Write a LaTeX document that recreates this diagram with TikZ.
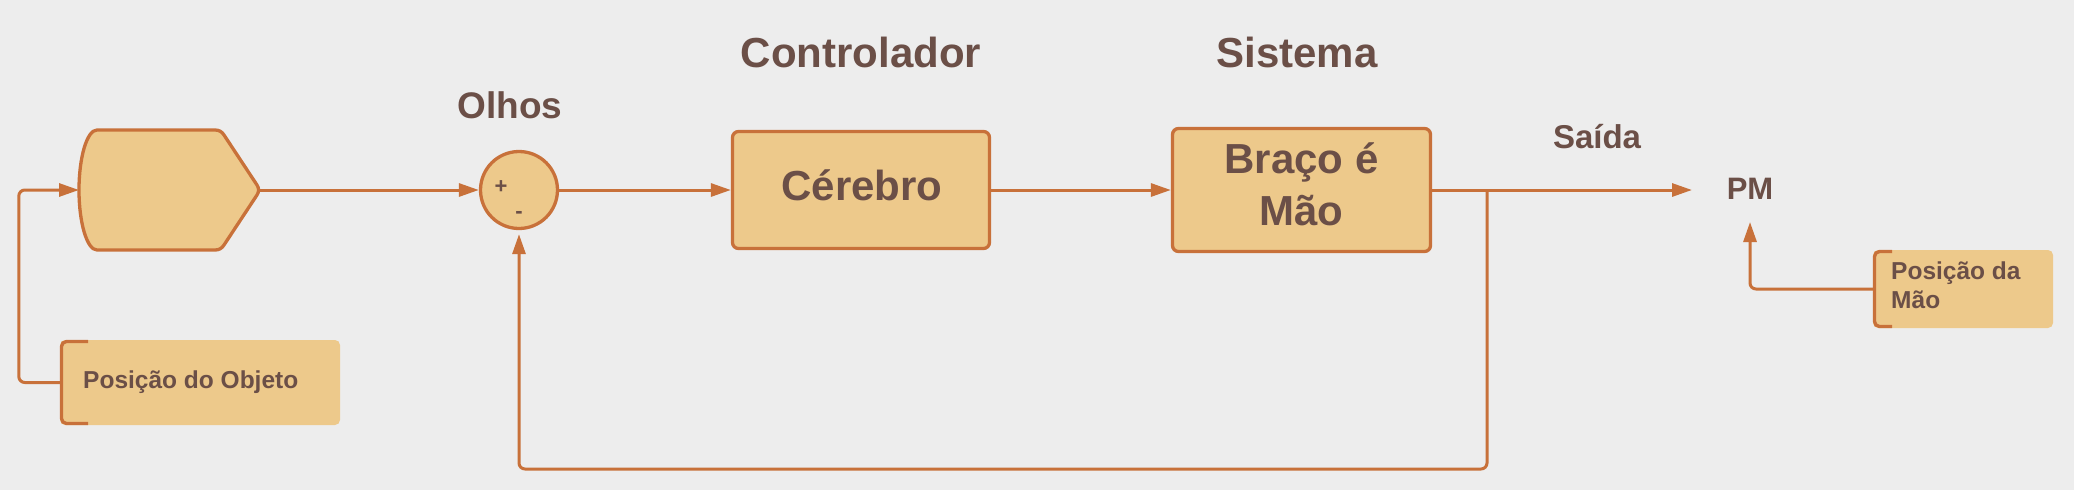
\documentclass[tikz,border=0pt]{standalone}
\usepackage{fontspec}
\setmainfont{Liberation Sans}
\usetikzlibrary{arrows.meta}
\definecolor{bg}{HTML}{EDEDED}
\definecolor{boxfill}{HTML}{EDC98B}
\definecolor{edge}{HTML}{C8713A}
\definecolor{txt}{HTML}{6B4F47}
\newcommand{\fsz}[1]{\fontsize{#1pt}{1.2\dimexpr#1pt\relax}\selectfont}
\begin{document}
\begin{tikzpicture}[x=1pt,y=-1pt,
  blockbox/.style={draw=edge,fill=boxfill,line width=3.3pt,rounded corners=6pt,inner sep=0pt},
  notebox/.style={fill=boxfill,rounded corners=5pt,inner sep=0pt},
  bracket/.style={draw=edge,line width=3.3pt,rounded corners=5pt},
  conn/.style={draw=edge,line width=3pt,rounded corners=6pt},
  arr/.style={conn,-{Triangle[length=20pt,width=13pt]}},
  lbl/.style={text=txt,font=\bfseries,anchor=base,inner sep=0pt},
]
\useasboundingbox[fill=bg] (0,0) rectangle (2074,490);

% input shape
\path[blockbox,sharp corners] (97,250)
  arc[start angle=270,end angle=90,x radius=18pt,y radius=60pt]
  -- (215,130) to[out=0,in=123] (224,135) -- (257,185) to[out=-57,in=57] (257,195)
  -- (224,245) to[out=-123,in=0] (215,250) -- cycle;
\coordinate (inW) at (79,190);
\coordinate (inE) at (260,190);

% blocks
\node[blockbox,circle,minimum size=77pt] (olhos) at (519,190) {};
\node[blockbox,minimum width=257pt,minimum height=117pt] (cerebro) at (861,190) {};
\node[blockbox,minimum width=258pt,minimum height=123pt] (sistema) at (1301.5,190) {};

% note boxes
\node[notebox,minimum width=280pt,minimum height=85pt] (objbox) at (200,382.5) {};
\draw[bracket] (88,341.5) -- (61.5,341.5) -- (61.5,423.5) -- (88,423.5);
\node[notebox,minimum width=180pt,minimum height=78pt] (maobox) at (1963,289) {};
\draw[bracket] (1892,251.5) -- (1874.5,251.5) -- (1874.5,326.5) -- (1892,326.5);

% texts
\node[lbl,font=\bfseries\fsz{42}] (tcontrol) at (861,67) {Controlador};
\node[lbl,font=\bfseries\fsz{42}] (tsistema) at (1297,67) {Sistema};
\node[lbl,font=\bfseries\fsz{37}] (tolhos) at (510,118) {Olhos};
\node[lbl,font=\bfseries\fsz{42}] (tcerebro) at (862,200) {Cérebro};
\node[lbl,font=\bfseries\fsz{42}] (tbraco) at (1301.5,173) {Braço é};
\node[lbl,font=\bfseries\fsz{42}] (tmao) at (1301.5,225) {Mão};
\node[lbl,font=\bfseries\fsz{33}] (tsaida) at (1597,148) {Saída};
\node[lbl,font=\bfseries\fsz{31}] (pm) at (1750,199) {PM};
\node[text=txt,font=\bfseries\fsz{22},inner sep=0pt] (plus) at (501,187) {+};
\node[text=txt,font=\bfseries\fsz{22},inner sep=0pt] (minus) at (519,215) {-};
\node[lbl,anchor=base west,font=\bfseries\fsz{24.5}] (tobj) at (83,388) {Posição do Objeto};
\node[lbl,anchor=base west,font=\bfseries\fsz{24.5}] (tmao1) at (1891,279) {Posição da};
\node[lbl,anchor=base west,font=\bfseries\fsz{24.5}] (tmao2) at (1891,308) {Mão};

% connectors
\coordinate (outend) at (1692,190);
\coordinate (branch) at (1487,190);
\coordinate (fbcorner) at (1487,469);
\coordinate (pmin) at (1750,222);
\draw[arr] (objbox.west) -- ++(-41,0) |- (inW);
\draw[arr] (inE) -- (olhos.west);
\draw[arr] (olhos.east) -- (cerebro.west);
\draw[arr] (cerebro.east) -- (sistema.west);
\draw[arr] (sistema.east) -- (outend);
\draw[arr,shorten >=4pt] (branch) -- (fbcorner) -| (olhos.south);
\draw[arr] (maobox.west) -| (pmin);
\end{tikzpicture}
\end{document}
